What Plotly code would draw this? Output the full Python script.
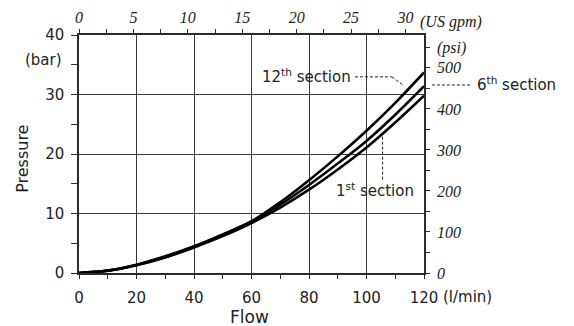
import plotly.graph_objects as go

# ---- data ----
flow_lpm = [0, 10, 20, 30, 40, 50, 60, 70, 80, 90, 100, 110, 120]
p_1st = [0, 0.4, 1.3, 2.6, 4.3, 6.2, 8.4, 11.0, 14.0, 17.4, 21.1, 25.3, 29.8]
p_6th = [0, 0.4, 1.35, 2.7, 4.4, 6.4, 8.6, 11.5, 14.8, 18.4, 22.2, 26.6, 31.4]
p_12th = [0, 0.4, 1.4, 2.8, 4.5, 6.5, 8.7, 11.9, 15.6, 19.6, 23.9, 28.6, 33.7]

gpm_ticks = [0, 5, 10, 15, 20, 25, 30]
psi_ticks = [0, 50, 100, 150, 200, 250, 300, 350, 400, 450, 500, 550]
psi_text = ["0", "", "100", "", "200", "", "300", "", "400", "", "500", "(psi)"]

LPM_PER_GPM = 3.785411784
PSI_PER_BAR = 14.5038
X_MAX = 120
Y_MAX = 40

AX = "#2b2b2b"
SANS = "DejaVu Sans"
SERIF = "Liberation Serif"

fig = go.Figure()
for ys in (p_1st, p_6th, p_12th):
    fig.add_trace(go.Scatter(x=flow_lpm, y=ys, mode="lines", line=dict(color="#000000", width=2.6, shape="spline"),
                             hoverinfo="skip", showlegend=False))
# helper trace to activate secondary axes
fig.add_trace(go.Scatter(x=[0], y=[0], xaxis="x2", yaxis="y2", mode="markers", marker=dict(opacity=0),
                         hoverinfo="skip", showlegend=False))

# page body has an 8px margin, so the figure is shrunk by 8px and margins reduced
fig.update_layout(
    width=566, height=318,
    margin=dict(l=71, r=150, t=27, b=53),
    paper_bgcolor="white", plot_bgcolor="white",
    font=dict(family=SANS, size=15, color="#222"),
    xaxis=dict(range=[0, X_MAX], tick0=0, dtick=20, showgrid=True, gridcolor="#3a3a3a", gridwidth=1.4,
               showline=True, linecolor=AX, linewidth=1.5, ticks="outside", ticklen=4, tickcolor=AX,
               tickwidth=1.3, zeroline=False, tickfont=dict(family=SANS, size=15, color="#222"),
               ticklabelstandoff=6, automargin=False,
               minor=dict(tick0=0, dtick=10, ticks="outside", ticklen=4, tickcolor=AX, showgrid=False)),
    yaxis=dict(range=[0, Y_MAX], tick0=0, dtick=10, showgrid=True, gridcolor="#3a3a3a", gridwidth=1.4,
               showline=True, linecolor=AX, linewidth=1.5, ticks="outside", ticklen=6, tickcolor=AX,
               tickwidth=1.3, zeroline=False, tickfont=dict(family=SANS, size=15, color="#222"),
               ticklabelstandoff=4, automargin=False,
               minor=dict(tick0=0, dtick=5, ticks="outside", ticklen=6, tickcolor=AX, showgrid=False)),
    xaxis2=dict(overlaying="x", side="top", anchor="y", range=[0, X_MAX / LPM_PER_GPM],
                tickmode="array", tickvals=gpm_ticks, ticktext=[str(v) for v in gpm_ticks],
                showgrid=False, zeroline=False, showline=True, linecolor=AX, linewidth=1.5,
                ticks="outside", ticklen=4, tickcolor=AX, tickwidth=1.3, automargin=False,
                tickfont=dict(family=SERIF, size=16, color="#222", style="italic"),
                minor=dict(tick0=0, dtick=2.5, ticks="outside", ticklen=4, tickcolor=AX, showgrid=False)),
    yaxis2=dict(overlaying="y", side="right", anchor="x", range=[0, Y_MAX * PSI_PER_BAR],
                tickmode="array", tickvals=psi_ticks, ticktext=psi_text,
                showgrid=False, zeroline=False, showline=True, linecolor=AX, linewidth=1.5,
                ticks="outside", ticklen=4, tickcolor=AX, tickwidth=1.3, ticklabelstandoff=4,
                automargin=False,
                tickfont=dict(family=SERIF, size=16, color="#222", style="italic")),
)

ann = [
    dict(text="Pressure", x=-0.162, y=0.48, textangle=-90, font=dict(size=16), xanchor="center", yanchor="middle"),
    dict(text="Flow", x=0.495, y=-0.184, font=dict(size=17), xanchor="center", yanchor="middle"),
    dict(text="(bar)", x=-0.043, y=0.895, xanchor="right", yanchor="middle"),
    dict(text="(l/min)", x=1.048, y=-0.101, xanchor="left", yanchor="middle"),
    dict(text="(US gpm)", x=0.983, y=1.056, xanchor="left", yanchor="middle",
         font=dict(family=SERIF, size=16, style="italic")),
    dict(text="12<sup>th</sup> section", x=0.794, y=0.827, xanchor="right", yanchor="middle"),
    dict(text="6<sup>th</sup> section", x=1.148, y=0.793, xanchor="left", yanchor="middle"),
    dict(text="1<sup>st</sup> section", x=0.858, y=0.350, xanchor="center", yanchor="middle"),
]
for a in ann:
    a.update(xref="paper", yref="paper", showarrow=False)
    fig.add_annotation(**a)

dash = dict(color="#222", width=1, dash="3px,2px")
leaders = [
    (0.800, 0.824, 0.907, 0.824),
    (0.907, 0.824, 0.939, 0.790),
    (1.023, 0.790, 1.133, 0.790),
    (0.880, 0.573, 0.880, 0.390),
]
for x0, y0, x1, y1 in leaders:
    fig.add_shape(type="line", xref="paper", yref="paper", x0=x0, y0=y0, x1=x1, y1=y1, line=dash)

fig.write_html("out.html")
